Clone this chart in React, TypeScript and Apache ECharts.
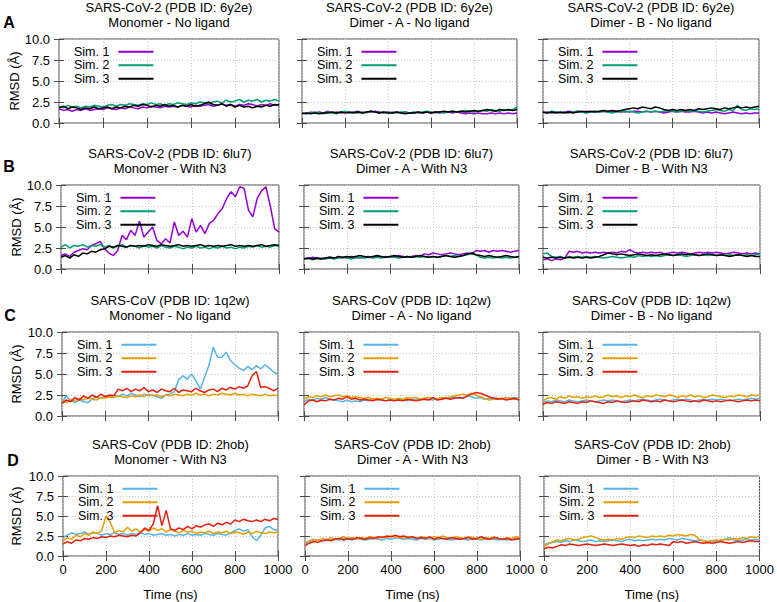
import React, { useEffect, useRef } from "react";
import * as echarts from "echarts";

// ---------- data ----------
const TIME = [
  0, 20, 40, 60, 80, 100, 120, 140, 160, 180,
  200, 220, 240, 260, 280, 300, 320, 340, 360, 380,
  400, 420, 440, 460, 480, 500, 520, 540, 560, 580,
  600, 620, 640, 660, 680, 700, 720, 740, 760, 780,
  800, 820, 840, 860, 880, 900, 920, 940, 960, 980,
  1000,
];

const ROW_LETTERS = ["A", "B", "C", "D"];
const ROW_SYSTEMS = [
  "SARS-CoV-2 (PDB ID: 6y2e)",
  "SARS-CoV-2 (PDB ID: 6lu7)",
  "SARS-CoV (PDB ID: 1q2w)",
  "SARS-CoV (PDB ID: 2hob)",
];
const ROW_LIGANDS = ["No ligand", "With N3", "No ligand", "With N3"];
const COL_STATES = ["Monomer", "Dimer - A", "Dimer - B"];
const SIM_NAMES = ["Sim. 1", "Sim. 2", "Sim. 3"];
const Y_AXIS_NAME = "RMSD (Å)";
const X_AXIS_NAME = "Time (ns)";

// Row A: SARS-CoV-2 6y2e, no ligand
const A1_SIM1 = [1.7,1.5,1.6,1.4,1.6,1.5,1.7,1.5,1.6,1.7, 1.6,1.8,1.7,1.6,1.8,1.7,1.9,1.8,1.7,1.9, 1.8,2.0,1.9,1.8,2.0,1.9,2.0,1.9,2.1,2.0, 1.9,2.1,2.0,2.1,2.2,2.0,2.1,2.3,2.1,2.2, 2.0,2.2,2.1,2.3,2.2,2.0,2.2,2.1,2.3,2.1, 2.2];
const A1_SIM2 = [2.0,1.8,2.1,1.9,2.0,1.8,2.0,1.9,2.1,2.0, 1.9,2.1,2.2,2.0,2.2,2.1,2.3,2.2,2.1,2.3, 2.2,2.4,2.2,2.3,2.1,2.3,2.2,2.4,2.3,2.2, 2.4,2.3,2.5,2.4,2.3,2.5,2.6,2.4,2.7,2.5, 2.6,2.8,2.5,2.7,2.6,2.8,2.5,2.7,2.6,2.8, 2.6];
const A1_SIM3 = [1.8,2.0,1.7,1.9,1.8,1.6,1.8,1.7,1.9,1.7, 1.8,1.9,1.7,1.9,1.8,2.0,1.9,2.1,2.0,2.2, 2.1,1.9,2.1,2.0,2.2,2.0,2.1,1.9,2.1,2.0, 2.2,2.0,2.1,2.3,2.5,2.2,2.1,2.3,2.0,2.2, 1.9,2.1,1.9,2.0,1.8,2.0,1.9,2.1,2.0,2.2, 2.1];
const A2_SIM1 = [1.2,1.1,1.3,1.2,1.3,1.2,1.4,1.2,1.3,1.2, 1.3,1.2,1.3,1.4,1.2,1.3,1.3,1.4,1.3,1.2, 1.3,1.2,1.3,1.2,1.3,1.2,1.2,1.3,1.2,1.3, 1.2,1.3,1.2,1.3,1.3,1.2,1.3,1.2,1.1,1.2, 1.1,1.2,1.1,1.1,1.2,1.1,1.2,1.1,1.2,1.1, 1.2];
const A2_SIM2 = [1.2,1.1,1.2,1.3,1.2,1.1,1.3,1.2,1.1,1.3, 1.4,1.2,1.3,1.2,1.3,1.2,1.4,1.3,1.2,1.3, 1.2,1.3,1.2,1.3,1.3,1.2,1.3,1.2,1.3,1.4, 1.3,1.2,1.3,1.2,1.3,1.4,1.3,1.4,1.5,1.4, 1.3,1.4,1.5,1.4,1.6,1.5,1.4,1.6,1.5,1.6, 1.9];
const A2_SIM3 = [1.1,1.2,1.1,1.2,1.1,1.2,1.2,1.3,1.2,1.3, 1.2,1.3,1.2,1.3,1.2,1.3,1.4,1.3,1.2,1.3, 1.2,1.2,1.3,1.2,1.1,1.2,1.2,1.3,1.2,1.3, 1.2,1.3,1.3,1.4,1.3,1.4,1.3,1.4,1.3,1.4, 1.5,1.4,1.5,1.6,1.5,1.4,1.6,1.5,1.6,1.5, 1.6];
const A3_SIM1 = [1.2,1.3,1.2,1.3,1.2,1.3,1.4,1.3,1.4,1.3, 1.4,1.3,1.4,1.3,1.4,1.3,1.3,1.4,1.3,1.4, 1.3,1.4,1.4,1.3,1.4,1.3,1.4,1.3,1.2,1.3, 1.4,1.3,1.4,1.3,1.3,1.4,1.3,1.2,1.3,1.2, 1.3,1.2,1.1,1.2,1.3,1.2,1.1,1.2,1.1,1.2, 1.2];
const A3_SIM2 = [1.3,1.2,1.4,1.3,1.2,1.3,1.2,1.3,1.4,1.3, 1.2,1.3,1.4,1.3,1.4,1.3,1.2,1.3,1.4,1.3, 1.4,1.3,1.2,1.3,1.4,1.3,1.4,1.3,1.4,1.5, 1.4,1.3,1.4,1.5,1.4,1.5,1.4,1.3,1.4,1.5, 1.6,1.5,1.4,1.6,1.5,2.1,1.6,1.5,1.7,1.6, 1.7];
const A3_SIM3 = [1.3,1.2,1.3,1.2,1.3,1.2,1.3,1.2,1.3,1.4, 1.3,1.4,1.3,1.4,1.5,1.4,1.5,1.4,1.5,1.6, 1.7,1.8,1.7,1.9,1.8,1.7,1.9,1.8,1.6,1.5, 1.6,1.5,1.6,1.5,1.6,1.5,1.7,1.6,1.7,1.8, 1.7,1.6,1.8,1.7,1.8,1.9,1.8,1.9,1.8,1.9, 2.0];

// Row B: SARS-CoV-2 6lu7, with N3
const B1_SIM1 = [1.6,1.8,1.5,2.0,2.2,2.4,2.3,2.8,3.0,3.3, 2.4,1.9,1.6,2.2,4.0,3.5,4.6,4.0,5.7,3.8, 4.4,5.0,3.4,3.0,3.6,3.1,5.6,4.0,4.5,3.8, 6.0,4.4,5.2,4.2,5.4,5.8,6.6,7.2,8.4,9.2, 8.6,9.8,9.6,7.0,6.2,8.4,9.3,9.8,7.5,4.8, 4.4];
const B1_SIM2 = [2.6,2.9,2.5,2.8,2.7,2.9,2.6,2.8,2.7,2.9, 2.6,2.8,2.5,2.7,2.9,2.6,2.8,2.7,2.5,2.8, 2.6,2.7,2.5,2.8,2.6,2.5,2.7,2.6,2.4,2.6, 2.5,2.7,2.5,2.6,2.4,2.6,2.5,2.7,2.5,2.6, 2.4,2.6,2.5,2.7,2.6,2.8,2.6,2.7,2.6,2.8, 2.7];
const B1_SIM3 = [1.4,1.6,1.3,1.7,1.5,1.9,1.8,2.1,2.0,2.3, 2.4,2.7,2.6,2.8,2.7,2.6,2.8,2.7,2.8,2.7, 2.9,2.8,2.7,2.9,2.8,2.7,2.8,2.9,2.7,2.8, 2.7,2.8,2.9,2.7,2.8,2.7,2.8,2.7,2.8,2.9, 2.7,2.8,2.7,2.8,2.7,2.8,2.9,2.7,2.8,2.9, 2.8];
const B2_SIM1 = [1.3,1.2,1.4,1.3,1.2,1.3,1.4,1.3,1.4,1.3, 1.4,1.5,1.4,1.3,1.4,1.5,1.4,1.5,1.4,1.5, 1.4,1.5,1.6,1.5,1.4,1.5,1.6,1.5,1.8,1.7, 1.9,1.8,1.7,1.8,1.9,1.8,1.7,1.8,1.9,1.8, 2.2,2.1,2.2,2.0,2.2,2.1,2.2,2.1,2.0,2.1, 2.2];
const B2_SIM2 = [1.2,1.3,1.1,1.2,1.3,1.2,1.3,1.2,1.3,1.4, 1.3,1.2,1.3,1.4,1.3,1.4,1.3,1.4,1.3,1.4, 1.5,1.4,1.3,1.4,1.5,1.4,1.5,1.4,1.5,1.4, 1.5,1.4,1.5,1.6,1.5,1.6,1.5,1.6,1.7,1.8, 1.7,1.4,1.3,1.4,1.3,1.4,1.3,1.4,1.3,1.4, 1.4];
const B2_SIM3 = [1.2,1.3,1.2,1.3,1.2,1.3,1.4,1.3,1.5,1.4, 1.5,1.4,1.5,1.6,1.5,1.4,1.5,1.6,1.5,1.4, 1.5,1.6,1.5,1.4,1.5,1.4,1.5,1.6,1.5,1.4, 1.5,1.4,1.5,1.6,1.5,1.4,1.5,1.6,1.8,1.9, 1.7,1.6,1.5,1.6,1.5,1.4,1.5,1.6,1.5,1.4, 1.5];
const B3_SIM1 = [1.1,1.2,1.0,1.2,1.1,1.3,2.1,2.0,2.1,1.9, 2.0,1.9,2.0,1.9,2.0,1.9,2.0,1.9,2.1,2.0, 2.3,2.0,1.9,2.0,1.9,2.0,1.9,2.0,1.8,1.9, 2.0,1.9,2.0,1.9,1.8,1.9,2.0,1.9,2.0,1.9, 2.0,1.9,1.8,1.9,2.0,1.9,1.8,1.9,1.8,1.9, 1.8];
const B3_SIM2 = [1.8,1.9,1.5,1.4,1.5,1.3,1.5,1.4,1.5,1.4, 1.5,1.4,1.5,1.4,1.3,1.4,1.5,1.4,1.3,1.4, 1.5,1.4,1.6,1.5,1.6,1.5,1.6,1.5,1.6,1.7, 1.6,1.7,1.6,1.5,1.6,1.7,1.6,1.7,1.6,1.7, 1.6,1.7,1.6,1.7,1.6,1.7,1.6,1.7,1.6,1.7, 1.8];
const B3_SIM3 = [1.4,1.3,1.4,1.3,1.4,1.3,1.4,1.3,1.4,1.3, 1.4,1.3,1.4,1.5,1.7,1.9,1.8,1.7,1.8,1.7, 1.6,1.7,1.8,1.7,1.6,1.7,1.6,1.7,1.8,1.7, 1.6,1.7,1.8,1.7,1.8,1.7,1.6,1.7,1.8,1.7, 1.6,1.7,1.6,1.5,1.6,1.7,1.6,1.5,1.6,1.5, 1.5];

// Row C: SARS-CoV 1q2w, no ligand
const C1_SIM1 = [1.6,2.4,1.8,1.6,1.9,1.7,1.6,2.0,2.3,2.1, 2.4,2.2,2.5,2.3,2.6,2.4,2.7,2.5,2.3,2.6, 2.4,2.5,2.3,2.1,2.5,2.6,2.9,4.3,4.8,4.4, 5.0,4.2,3.2,4.6,6.0,8.2,7.0,7.0,7.6,6.6, 6.1,5.7,5.4,5.9,5.5,6.0,5.6,6.1,5.7,5.2, 5.0];
const C1_SIM2 = [1.8,1.6,2.0,1.8,2.1,1.9,2.2,2.0,1.9,2.2, 2.1,2.3,2.2,2.4,2.3,2.2,2.4,2.3,2.5,2.3, 2.6,2.4,2.5,2.3,2.5,2.4,2.6,2.5,2.4,2.6, 2.5,2.7,2.5,2.6,2.4,2.6,2.5,2.7,2.6,2.5, 2.7,2.5,2.6,2.4,2.6,2.5,2.4,2.6,2.4,2.5, 2.4];
const C1_SIM3 = [1.5,1.9,1.7,2.2,1.9,2.4,2.1,2.5,2.2,2.6, 2.3,2.5,2.4,3.2,3.0,3.3,2.9,3.2,3.0,3.4, 2.9,3.1,2.8,3.2,3.0,2.9,3.3,2.8,3.1,3.0, 2.9,3.3,3.0,2.8,3.1,3.2,2.9,3.3,3.1,3.4, 3.2,3.5,3.3,3.6,4.8,5.3,3.4,3.5,3.3,3.0, 3.3];
const C2_SIM1 = [1.7,2.0,1.9,2.1,2.0,2.2,2.0,1.9,1.8,1.7, 1.9,1.7,1.8,1.7,1.9,1.8,2.0,1.9,2.0,1.8, 2.0,1.9,2.0,1.9,1.8,2.0,1.9,2.0,2.1,2.0, 1.9,2.1,2.0,2.2,2.1,2.3,2.1,2.2,2.4,2.3, 2.1,2.2,2.0,2.1,2.2,2.1,2.0,2.2,2.1,2.2, 2.1];
const C2_SIM2 = [2.0,2.3,2.2,2.4,2.3,2.5,2.3,2.4,2.5,2.3, 2.4,2.2,2.3,2.2,2.1,2.2,2.0,2.1,2.0,2.2, 2.1,2.0,2.1,2.0,2.2,2.1,2.2,2.0,2.1,2.2, 2.1,2.0,2.2,2.1,2.3,2.4,2.5,2.6,2.5,2.7, 2.5,2.3,2.1,1.9,2.0,2.1,2.0,2.2,2.1,2.0, 2.2];
const C2_SIM3 = [1.3,1.8,1.9,1.7,1.9,1.8,2.0,1.9,2.1,2.0, 2.3,2.0,2.1,1.9,2.0,1.9,1.8,2.0,1.9,1.8, 1.9,1.8,1.9,1.8,2.0,1.9,1.8,1.9,2.0,1.9, 2.2,1.9,2.0,2.1,2.0,2.1,2.2,2.1,2.4,2.6, 2.8,2.7,2.5,2.3,2.1,2.0,2.1,1.9,2.0,2.1, 1.9];
const C3_SIM1 = [1.6,1.8,1.7,1.9,1.8,1.7,1.9,1.8,1.7,1.8, 1.9,1.8,1.7,1.8,1.9,1.8,1.9,1.8,1.7,1.8, 1.9,1.8,1.9,2.0,1.9,1.8,1.9,2.0,1.9,1.8, 1.9,2.0,1.9,2.0,1.9,1.8,1.9,2.0,1.9,2.0, 1.9,2.0,1.9,1.8,1.9,2.0,1.9,2.0,2.1,2.0, 2.1];
const C3_SIM2 = [1.8,2.1,2.2,2.0,2.3,2.1,2.4,2.2,2.3,2.1, 2.3,2.2,2.4,2.2,2.3,2.5,2.3,2.4,2.2,2.4, 2.3,2.5,2.3,2.2,2.4,2.3,2.5,2.4,2.3,2.5, 2.4,2.2,2.4,2.3,2.5,2.3,2.4,2.2,2.3,2.5, 2.4,2.3,2.2,2.4,2.3,2.5,2.4,2.3,2.5,2.4, 2.5];
const C3_SIM3 = [1.4,1.6,1.5,1.7,1.6,1.5,1.7,1.6,1.5,1.7, 1.6,1.8,1.7,1.6,1.5,1.7,1.6,1.8,1.7,1.6, 1.7,1.8,1.7,1.9,1.8,1.7,1.8,1.7,1.9,1.8, 1.7,1.8,1.9,1.8,1.7,1.8,1.7,1.9,1.8,1.7, 1.8,1.7,1.8,1.9,1.8,1.7,1.8,1.9,1.8,1.9, 1.8];

// Row D: SARS-CoV 2hob, with N3
const D1_SIM1 = [2.3,2.6,2.9,2.7,2.8,3.0,2.7,2.9,2.8,2.6, 2.8,2.7,2.9,2.7,2.8,2.6,2.8,2.7,2.9,2.7, 2.8,2.6,2.7,2.8,2.6,2.7,2.5,2.7,2.6,2.8, 2.6,2.7,2.6,2.8,2.7,2.6,2.8,2.7,2.6,2.9, 3.2,3.4,3.1,3.3,2.4,1.9,2.6,3.5,3.7,3.3, 3.2];
const D1_SIM2 = [1.9,2.3,2.1,2.6,2.4,2.8,2.6,3.0,2.8,3.2, 5.0,4.2,2.9,3.2,3.0,3.6,3.1,3.4,3.0,3.3, 3.1,3.5,3.2,3.4,3.0,3.3,3.1,2.9,3.2,3.0, 3.1,2.8,3.0,2.9,3.1,2.8,3.0,2.9,3.1,2.8, 3.0,2.9,2.7,3.0,2.8,3.1,2.9,2.8,3.0,2.9, 3.0];
const D1_SIM3 = [1.5,1.8,1.6,2.0,1.9,2.2,2.1,2.3,2.2,2.4, 2.3,2.5,2.4,2.6,2.5,2.4,2.6,2.5,2.9,3.5, 3.2,4.0,6.3,3.8,5.7,3.4,3.2,3.5,3.3,3.7, 3.4,3.8,3.6,3.9,4.0,3.7,4.1,3.9,4.2,4.0, 4.5,4.3,4.6,4.4,4.3,4.5,4.3,4.6,4.4,4.7, 4.6];
const D2_SIM1 = [1.5,1.8,1.9,2.0,1.9,2.1,2.0,2.1,2.0,2.2, 2.1,2.0,2.2,2.1,2.0,2.1,2.2,2.1,2.0,2.2, 2.1,2.3,2.2,2.1,2.2,2.1,2.0,2.2,2.1,2.2, 2.0,2.1,2.2,2.1,2.0,2.1,2.2,2.1,2.0,2.2, 2.1,2.0,2.1,2.2,2.1,2.0,2.1,2.0,2.1,2.2, 2.1];
const D2_SIM2 = [1.6,1.9,2.1,1.9,2.2,2.0,2.3,2.1,2.2,2.4, 2.2,2.3,2.1,2.3,2.2,2.4,2.3,2.2,2.4,2.3, 2.5,2.3,2.4,2.2,2.4,2.3,2.2,2.4,2.3,2.2, 2.4,2.3,2.5,2.3,2.2,2.4,2.3,2.2,2.4,2.3, 2.2,2.1,2.3,2.2,2.4,2.2,2.1,2.3,2.2,2.4, 2.3];
const D2_SIM3 = [1.3,1.6,1.8,1.7,1.9,2.0,1.9,2.1,2.2,2.0, 2.2,2.1,2.3,2.2,2.1,2.3,2.2,2.4,2.3,2.5, 2.4,2.6,2.4,2.5,2.3,2.4,2.2,2.3,2.2,2.4, 2.1,2.3,2.2,2.1,2.3,2.2,2.1,2.2,2.3,2.1, 2.2,2.4,2.2,2.1,2.3,2.2,2.1,2.2,2.0,2.1, 2.2];
const D3_SIM1 = [1.4,1.6,1.7,1.8,1.7,1.9,1.8,2.0,1.9,1.8, 1.9,2.0,1.8,1.9,1.8,1.9,2.0,1.9,1.8,2.0, 2.1,1.9,2.0,1.9,2.0,2.1,2.0,2.1,2.0,2.2, 2.1,2.0,2.2,2.1,2.0,1.9,2.0,1.9,1.8,1.9, 1.8,2.0,2.1,2.3,2.0,1.9,2.0,2.1,2.0,2.1, 2.0];
const D3_SIM2 = [1.2,1.5,1.8,2.0,1.9,2.1,2.2,2.0,2.1,2.3, 2.4,2.5,2.3,2.1,2.0,2.1,2.0,2.2,2.1,2.3, 2.4,2.3,2.5,2.4,2.3,2.5,2.4,2.5,2.4,2.6, 2.5,2.7,2.6,2.5,2.7,2.6,2.1,1.9,1.8,1.9, 2.0,1.9,2.1,2.0,2.2,2.1,2.3,2.2,2.4,2.3, 2.5];
const D3_SIM3 = [0.9,1.1,1.0,1.2,1.4,1.3,1.5,1.4,1.3,1.4, 1.5,1.4,1.3,1.4,1.5,1.4,1.3,1.4,1.5,1.4, 1.3,1.4,1.2,1.4,1.3,1.5,1.4,1.5,1.4,1.3, 1.8,1.7,1.8,1.6,1.7,1.8,1.7,1.6,1.7,1.6, 1.7,1.8,1.7,1.6,1.7,1.8,1.7,1.8,1.9,1.8, 1.8];

const PANEL_DATA = [
  [[A1_SIM1, A1_SIM2, A1_SIM3], [A2_SIM1, A2_SIM2, A2_SIM3], [A3_SIM1, A3_SIM2, A3_SIM3]],
  [[B1_SIM1, B1_SIM2, B1_SIM3], [B2_SIM1, B2_SIM2, B2_SIM3], [B3_SIM1, B3_SIM2, B3_SIM3]],
  [[C1_SIM1, C1_SIM2, C1_SIM3], [C2_SIM1, C2_SIM2, C2_SIM3], [C3_SIM1, C3_SIM2, C3_SIM3]],
  [[D1_SIM1, D1_SIM2, D1_SIM3], [D2_SIM1, D2_SIM2, D2_SIM3], [D3_SIM1, D3_SIM2, D3_SIM3]],
];

// ---------- styles / layout ----------
const COLORS_COV2 = ["#9400d3", "#009e73", "#000000"];
const COLORS_COV = ["#56b4e9", "#e69f00", "#e51e10"];
const ROW_COLORS = [COLORS_COV2, COLORS_COV2, COLORS_COV, COLORS_COV];

const FONT = "'Liberation Sans', Arial, Helvetica, sans-serif";
const BORDER = "#4a4a4a";
const ROW_TOP = [39, 185, 332, 476];
const PLOT_H = 84;
const COL_LEFT = [
  [59, 302, 543],
  [61, 304, 543],
  [62, 304, 543],
  [63, 305, 544],
];
const COL_RIGHT = [
  [279, 517, 759],
  [279, 519, 760],
  [278, 519, 760],
  [278, 520, 761],
];
const LETTER_POS = [
  [9, 22],
  [9, 166],
  [10, 315],
  [13, 460],
];

function buildOption() {
  const grids: any[] = [];
  const xAxes: any[] = [];
  const yAxes: any[] = [];
  const series: any[] = [];
  const legends: any[] = [];
  const titles: any[] = [];
  const graphics: any[] = [];

  for (let r = 0; r < 4; r++) {
    for (let c = 0; c < 3; c++) {
      const idx = r * 3 + c;
      const left = COL_LEFT[r][c];
      const right = COL_RIGHT[r][c];
      const top = ROW_TOP[r];
      grids.push({
        left,
        top,
        width: right - left,
        height: PLOT_H,
        show: true,
        borderColor: BORDER,
        borderWidth: 1,
        backgroundColor: "transparent",
        containLabel: false,
      });
      const tick = { show: true, inside: true, length: 5, lineStyle: { color: BORDER, width: 1 } };
      const grid = { show: true, lineStyle: { color: "#c8c8c8", type: [1, 2], width: 1 } };
      xAxes.push({
        gridIndex: idx,
        type: "value",
        min: 0,
        max: 1000,
        interval: 200,
        position: "bottom",
        axisLine: { show: false },
        axisTick: tick,
        splitLine: grid,
        axisLabel: {
          show: r === 3,
          margin: 7,
          fontSize: 13,
          color: "#000",
          fontFamily: FONT,
          formatter: (v: number) => String(v),
        },
        name: r === 3 ? X_AXIS_NAME : "",
        nameLocation: "middle",
        nameGap: 32,
        nameTextStyle: { fontSize: 13, color: "#000", fontFamily: FONT },
      });
      xAxes.push({
        gridIndex: idx,
        type: "value",
        min: 0,
        max: 1000,
        interval: 200,
        position: "top",
        axisLine: { show: false },
        axisTick: tick,
        splitLine: { show: false },
        axisLabel: { show: false },
      });
      yAxes.push({
        gridIndex: idx,
        type: "value",
        min: 0,
        max: 10,
        interval: 2.5,
        position: "left",
        axisLine: { show: false },
        axisTick: tick,
        splitLine: grid,
        axisLabel: {
          show: c === 0,
          margin: 9,
          fontSize: 13,
          color: "#000",
          fontFamily: FONT,
          formatter: (v: number) => v.toFixed(1),
        },
        name: c === 0 ? Y_AXIS_NAME : "",
        nameLocation: "middle",
        nameRotate: 90,
        nameGap: left - 23,
        nameTextStyle: { fontSize: 13, color: "#000", fontFamily: FONT },
      });
      yAxes.push({
        gridIndex: idx,
        type: "value",
        min: 0,
        max: 10,
        interval: 2.5,
        position: "right",
        axisLine: { show: false },
        axisTick: tick,
        splitLine: { show: false },
        axisLabel: { show: false },
      });

      const names: string[] = [];
      for (let s = 0; s < 3; s++) {
        const arr = PANEL_DATA[r][c][s];
        const color = ROW_COLORS[r][s];
        const name = `${ROW_LETTERS[r]}${c}|${SIM_NAMES[s]}`;
        names.push(name);
        series.push({
          type: "line",
          name,
          xAxisIndex: idx * 2,
          yAxisIndex: idx * 2,
          data: TIME.map((t, i) => [t, arr[i]]),
          showSymbol: false,
          symbol: "none",
          silent: true,
          clip: true,
          lineStyle: { width: 1.5, color },
          itemStyle: { color },
          z: 2 + s,
        });
      }
      legends.push({
        show: true,
        orient: "vertical",
        left: left + 15,
        top: top + 6,
        padding: 0,
        itemGap: 0,
        itemWidth: 35,
        itemHeight: 2,
        icon: "rect",
        align: "right",
        selectedMode: false,
        data: names,
        formatter: (n: string) => n.split("|")[1],
        textStyle: { fontSize: 12.5, color: "#000", fontFamily: FONT, lineHeight: 13.5, padding: [0, 4, 0, 0] },
      });
      titles.push({
        text: `${ROW_SYSTEMS[r]}\n${COL_STATES[c]} - ${ROW_LIGANDS[r]}`,
        left: (left + right) / 2,
        top: top - 39,
        textAlign: "center",
        padding: 0,
        textStyle: { fontSize: 13, fontWeight: "normal", color: "#000", fontFamily: FONT, lineHeight: 15 },
      });
    }
    graphics.push({
      type: "text",
      x: LETTER_POS[r][0],
      y: LETTER_POS[r][1],
      style: {
        text: ROW_LETTERS[r],
        fontSize: 16,
        fontWeight: "bold",
        fontFamily: FONT,
        fill: "#000",
        align: "center",
        verticalAlign: "middle",
      },
    });
  }

  return {
    animation: false,
    backgroundColor: "#ffffff",
    title: titles,
    grid: grids,
    xAxis: xAxes,
    yAxis: yAxes,
    legend: legends,
    series,
    graphic: graphics,
  };
}

export default function App() {
  const ref = useRef<HTMLDivElement>(null);
  useEffect(() => {
    document.body.style.margin = "0";
    if (!ref.current) return;
    const chart = echarts.init(ref.current, undefined, { renderer: "svg" });
    chart.setOption(buildOption() as any);
    return () => chart.dispose();
  }, []);
  return <div ref={ref} style={{ width: 777, height: 602 }} />;
}
